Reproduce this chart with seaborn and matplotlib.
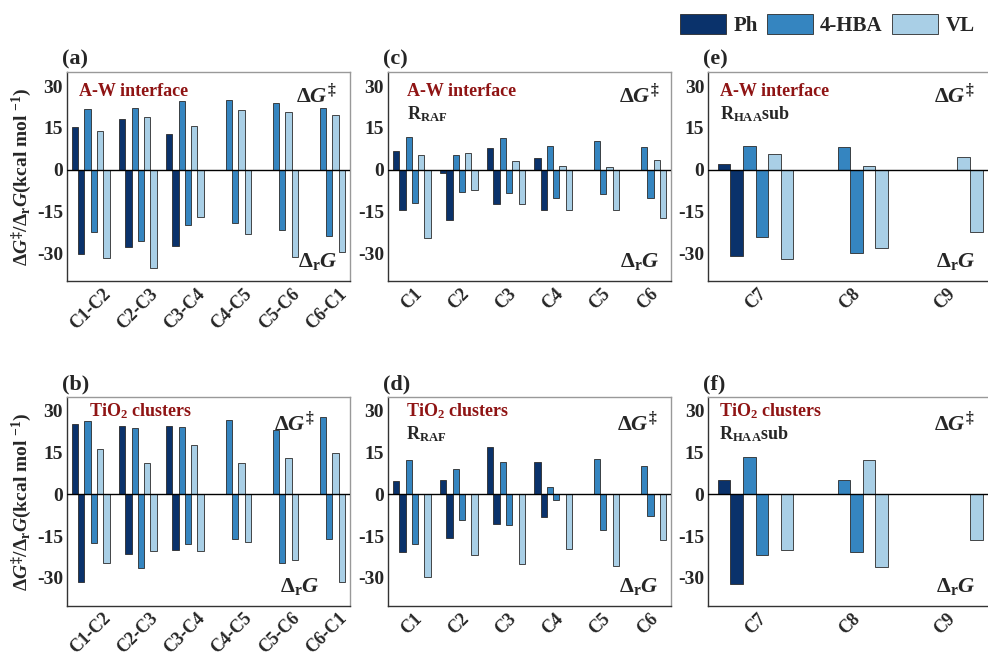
import numpy as np
import pandas as pd
import matplotlib
matplotlib.use('Agg')
import matplotlib.pyplot as plt
import seaborn as sns
from matplotlib.patches import Patch

nan = np.nan

# ── Categories ────────────────────────────────────────────────────────────────
bonds = ['C1-C2', 'C2-C3', 'C3-C4', 'C4-C5', 'C5-C6', 'C6-C1']
raf_sites = ['C1', 'C2', 'C3', 'C4', 'C5', 'C6']
haa_sites = ['C7', 'C8', 'C9']

# ── (a) A-W interface, bonds : barrier (ts) / reaction (r) energies ──────────
a_ph_ts = [15.2, 18.1, 12.8, nan, nan, nan]
a_ph_r = [-30.4, -27.8, -27.4, nan, nan, nan]
a_hba_ts = [21.7, 22.1, 24.6, 25.2, 23.8, 22.2]
a_hba_r = [-22.4, -25.7, -19.7, -19.1, -21.8, -23.7]
a_vl_ts = [14.0, 19.1, 15.8, 21.4, 20.9, 19.6]
a_vl_r = [-31.8, -35.2, -16.9, -23.0, -31.2, -29.5]

# ── (b) TiO2 clusters, bonds ─────────────────────────────────────────────────
b_ph_ts = [25.4, 24.5, 24.5, nan, nan, nan]
b_ph_r = [-31.3, -21.5, -20.0, nan, nan, nan]
b_hba_ts = [26.2, 23.7, 24.1, 26.6, 23.2, 27.8]
b_hba_r = [-17.6, -26.6, -17.9, -16.0, -24.5, -16.2]
b_vl_ts = [16.2, 11.4, 17.6, 11.1, 13.2, 14.8]
b_vl_r = [-24.7, -20.3, -20.3, -17.0, -23.6, -31.5]

# ── (c) A-W interface, RAF ───────────────────────────────────────────────────
c_ph_ts = [6.6, -1.2, 7.8, 4.2, nan, nan]
c_ph_r = [-14.4, -18.1, -12.4, -14.4, nan, nan]
c_hba_ts = [11.9, 5.3, 11.3, 8.6, 10.5, 8.0]
c_hba_r = [-11.9, -7.9, -8.4, -10.0, -8.6, -10.2]
c_vl_ts = [5.2, 6.1, 3.2, 1.4, 0.9, 3.4]
c_vl_r = [-24.4, -7.3, -12.4, -14.4, -14.3, -17.3]

# ── (d) TiO2 clusters, RAF ───────────────────────────────────────────────────
d_ph_ts = [4.8, 5.3, 17.1, 11.5, nan, nan]
d_ph_r = [-20.8, -15.5, -10.6, -8.0, nan, nan]
d_hba_ts = [12.5, 9.0, 11.5, 2.7, 12.8, 10.1]
d_hba_r = [-18.0, -9.2, -10.9, -2.2, -12.9, -7.9]
d_vl_ts = [nan, nan, nan, nan, nan, nan]
d_vl_r = [-29.7, -21.9, -25.1, -19.8, -25.9, -16.5]

# ── (e) A-W interface, HAA sub ───────────────────────────────────────────────
e_ph_ts = [2.0, nan, nan]
e_ph_r = [-31.0, nan, nan]
e_hba_ts = [8.7, 8.1, nan]
e_hba_r = [-24.2, -29.9, nan]
e_vl_ts = [5.5, 1.2, 4.7]
e_vl_r = [-31.9, -28.1, -22.4]

# ── (f) TiO2 clusters, HAA sub ───────────────────────────────────────────────
f_ph_ts = [5.0, nan, nan]
f_ph_r = [-32.1, nan, nan]
f_hba_ts = [13.5, 5.0, nan]
f_hba_r = [-21.7, -20.8, nan]
f_vl_ts = [nan, 12.4, nan]
f_vl_r = [-20.0, -26.0, -16.5]

compounds = ['Ph', '4-HBA', 'VL']
colors = ['#0a326b', '#3585c0', '#a9cfe6']
series = ['Ph ts', 'Ph r', '4-HBA ts', '4-HBA r', 'VL ts', 'VL r']
pal = {s: colors[i // 2] for i, s in enumerate(series)}

# ── Style ────────────────────────────────────────────────────────────────────
sns.set_theme(style='white')
plt.rcParams['font.family'] = ['Liberation Serif', 'DejaVu Serif']
plt.rcParams['font.weight'] = 'bold'
plt.rcParams['axes.unicode_minus'] = False
plt.rcParams['mathtext.fontset'] = 'custom'
plt.rcParams['mathtext.rm'] = 'Liberation Serif:bold'
plt.rcParams['mathtext.it'] = 'Liberation Serif:bold:italic'
plt.rcParams['mathtext.bf'] = 'Liberation Serif:bold'

RED = '#8f1414'

panels = [
    ('(a)', bonds, [a_ph_ts, a_ph_r, a_hba_ts, a_hba_r, a_vl_ts, a_vl_r], 'A-W interface', None),
    ('(c)', raf_sites, [c_ph_ts, c_ph_r, c_hba_ts, c_hba_r, c_vl_ts, c_vl_r], 'A-W interface', r'$\mathrm{R}_{\mathrm{RAF}}$'),
    ('(e)', haa_sites, [e_ph_ts, e_ph_r, e_hba_ts, e_hba_r, e_vl_ts, e_vl_r], 'A-W interface', r'$\mathrm{R}_{\mathrm{HAA}}$sub'),
    ('(b)', bonds, [b_ph_ts, b_ph_r, b_hba_ts, b_hba_r, b_vl_ts, b_vl_r], r'TiO$_2$ clusters', None),
    ('(d)', raf_sites, [d_ph_ts, d_ph_r, d_hba_ts, d_hba_r, d_vl_ts, d_vl_r], r'TiO$_2$ clusters', r'$\mathrm{R}_{\mathrm{RAF}}$'),
    ('(f)', haa_sites, [f_ph_ts, f_ph_r, f_hba_ts, f_hba_r, f_vl_ts, f_vl_r], r'TiO$_2$ clusters', r'$\mathrm{R}_{\mathrm{HAA}}$sub'),
]

lefts = [0.068, 0.393, 0.717]
widths = [0.286, 0.286, 0.287]
bottoms = [0.572, 0.078]
height = 0.318

# text anchor positions (axes fraction) per row / column
env_x = [[0.042, 0.067, 0.042], [0.078, 0.064, 0.039]]
env_y = [0.91, 0.93]
mech_y = [0.80, 0.82]
dg_x = [[0.955, 0.96, 0.94], [0.875, 0.954, 0.94]]
dg_y = [0.89, 0.875]
dr_x = [[0.955, 0.96, 0.94], [0.894, 0.957, 0.94]]
dr_y = [0.095, 0.093]

fig = plt.figure(figsize=(9.88, 6.57), dpi=100)

for k, (tag, cats, vals, env, mech) in enumerate(panels):
    row, col = divmod(k, 3)
    ax = fig.add_axes([lefts[col], bottoms[row], widths[col], height])

    rows = [(c, s, v) for s, vs in zip(series, vals) for c, v in zip(cats, vs)]
    df = pd.DataFrame(rows, columns=['site', 'series', 'value']).dropna()
    sns.barplot(data=df, x='site', y='value', hue='series', order=cats,
                hue_order=series, palette=pal, width=0.8, saturation=1,
                edgecolor='#2b2b2b', linewidth=0.6, errorbar=None,
                legend=False, ax=ax)
    ax.axhline(0, color='black', lw=1, zorder=5)

    ax.set_xlim(-0.5, len(cats) - 0.5)
    ax.set_ylim(-40, 35)
    ax.set_yticks([-30, -15, 0, 15, 30])
    ax.set_xlabel('')
    ax.set_ylabel('')
    ax.tick_params(axis='both', length=0, pad=3)
    ax.tick_params(axis='y', labelsize=14)
    ax.tick_params(axis='x', labelsize=13)
    for t in ax.get_xticklabels():
        t.set_rotation(45)
        t.set_fontweight('bold')
    for t in ax.get_yticklabels():
        t.set_fontweight('bold')

    for side in ['left', 'bottom']:
        ax.spines[side].set_color('#333333')
        ax.spines[side].set_linewidth(1.0)
    for side in ['top', 'right']:
        ax.spines[side].set_color('#999999')
        ax.spines[side].set_linewidth(1.0)

    ax.text(-0.018, 1.012, tag, transform=ax.transAxes, fontsize=16,
            fontweight='bold', ha='left', va='bottom')

    ax.text(env_x[row][col], env_y[row], env, transform=ax.transAxes,
            fontsize=13, color=RED, fontweight='bold', ha='left', va='center')
    if mech:
        ax.text(env_x[row][col], mech_y[row], mech, transform=ax.transAxes,
                fontsize=13, fontweight='bold', ha='left', va='center')
    ax.text(dg_x[row][col], dg_y[row], r'$\Delta G^{\ddagger}$',
            transform=ax.transAxes, fontsize=16, ha='right', va='center')
    ax.text(dr_x[row][col], dr_y[row], r'$\Delta_{\mathrm{r}}G$',
            transform=ax.transAxes, fontsize=16, ha='right', va='center')

    if col == 0:
        ax.set_ylabel(r'$\Delta G^{\ddagger}/\Delta_{\mathrm{r}}G$(kcal mol $^{-1}$)',
                      fontsize=14, fontweight='bold', labelpad=2)

handles = [Patch(facecolor=c, edgecolor='#2b2b2b', linewidth=0.6) for c in colors]
fig.legend(handles, compounds, loc='upper right', bbox_to_anchor=(1.0, 1.0),
           ncol=3, frameon=False, prop={'weight': 'bold', 'size': 15},
           handlelength=2.2, handleheight=1.1, columnspacing=0.45,
           handletextpad=0.35, borderaxespad=0.25)

fig.savefig('out.png', dpi=100)
